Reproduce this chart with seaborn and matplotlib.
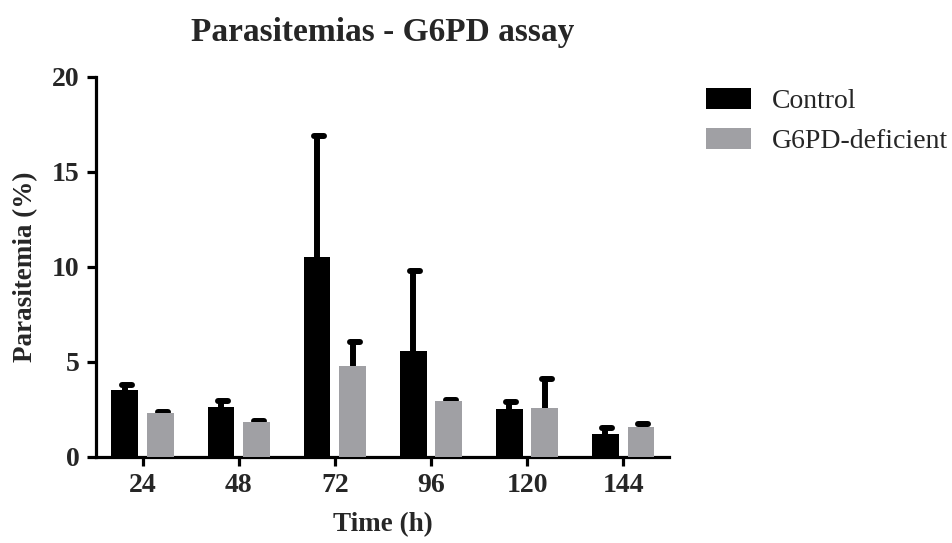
import numpy as np
import pandas as pd
import matplotlib
matplotlib.use("Agg")
import matplotlib.pyplot as plt
import seaborn as sns

# ---- data ----
times = ["24", "48", "72", "96", "120", "144"]
groups = ["Control", "G6PD-deficient"]
control_mean = [3.5, 2.65, 10.5, 5.6, 2.5, 1.2]
control_err = [0.3, 0.28, 6.4, 4.2, 0.42, 0.35]
g6pd_mean = [2.3, 1.85, 4.8, 2.95, 2.6, 1.6]
g6pd_err = [0.05, 0.05, 1.25, 0.05, 1.5, 0.12]

df = pd.DataFrame({
    "Time": times * 2,
    "Group": [groups[0]] * len(times) + [groups[1]] * len(times),
    "Value": control_mean + g6pd_mean,
})
errs = {groups[0]: control_err, groups[1]: g6pd_err}

sns.set_theme(style="ticks")
plt.rcParams["font.family"] = ["Liberation Serif", "DejaVu Serif"]

fig = plt.figure(figsize=(9.52, 5.43), dpi=100)
ax = fig.add_axes([0.1005, 0.1584, 0.6025, 0.6998])

colors = ["#000000", "#a0a0a4"]
sns.barplot(data=df, x="Time", y="Value", hue="Group", order=times,
            hue_order=groups, palette=colors, width=0.744, gap=0.247,
            errorbar=None, linewidth=0, ax=ax, zorder=3)

for cont, g in zip(ax.containers, groups):
    xs = np.array([p.get_x() + p.get_width() / 2 for p in cont])
    ys = np.array([p.get_height() for p in cont])
    e = np.array(errs[g])
    ax.errorbar(xs, ys, yerr=[np.zeros(len(e)), e], fmt="none",
                ecolor="black", elinewidth=4.3, capsize=0, zorder=2)
    # upper caps only, slightly offset to the right with a rounded end
    for x, top in zip(xs, ys + e):
        ax.plot([x - 0.03, x + 0.075], [top, top], color="black",
                lw=4.3, solid_capstyle="round", zorder=2.5)

ax.set_ylim(0, 20)
ax.set_xlim(-0.49, 5.48)
ax.set_yticks([0, 5, 10, 15, 20])
sns.despine(ax=ax)
for s in ["left", "bottom"]:
    ax.spines[s].set_linewidth(2.3)
    ax.spines[s].set_color("black")
ax.tick_params(axis="both", length=6.5, width=2.3, color="black",
               labelsize=20, pad=5)
for lab in ax.get_xticklabels() + ax.get_yticklabels():
    lab.set_fontweight("bold")

ax.set_xlabel("Time (h)", fontsize=19.5, fontweight="bold", labelpad=10)
ax.set_ylabel("Parasitemia (%)", fontsize=19.5, fontweight="bold", labelpad=10)
ax.set_title("Parasitemias - G6PD assay", fontsize=24, fontweight="bold", pad=26)

ax.legend(loc="upper left", bbox_to_anchor=(0.742, 0.838),
          bbox_transform=fig.transFigure, frameon=False, fontsize=20,
          handlelength=1.62, handleheight=0.8, handletextpad=0.75,
          labelspacing=0.5, borderaxespad=0, borderpad=0)

fig.savefig("out.png", dpi=100)
